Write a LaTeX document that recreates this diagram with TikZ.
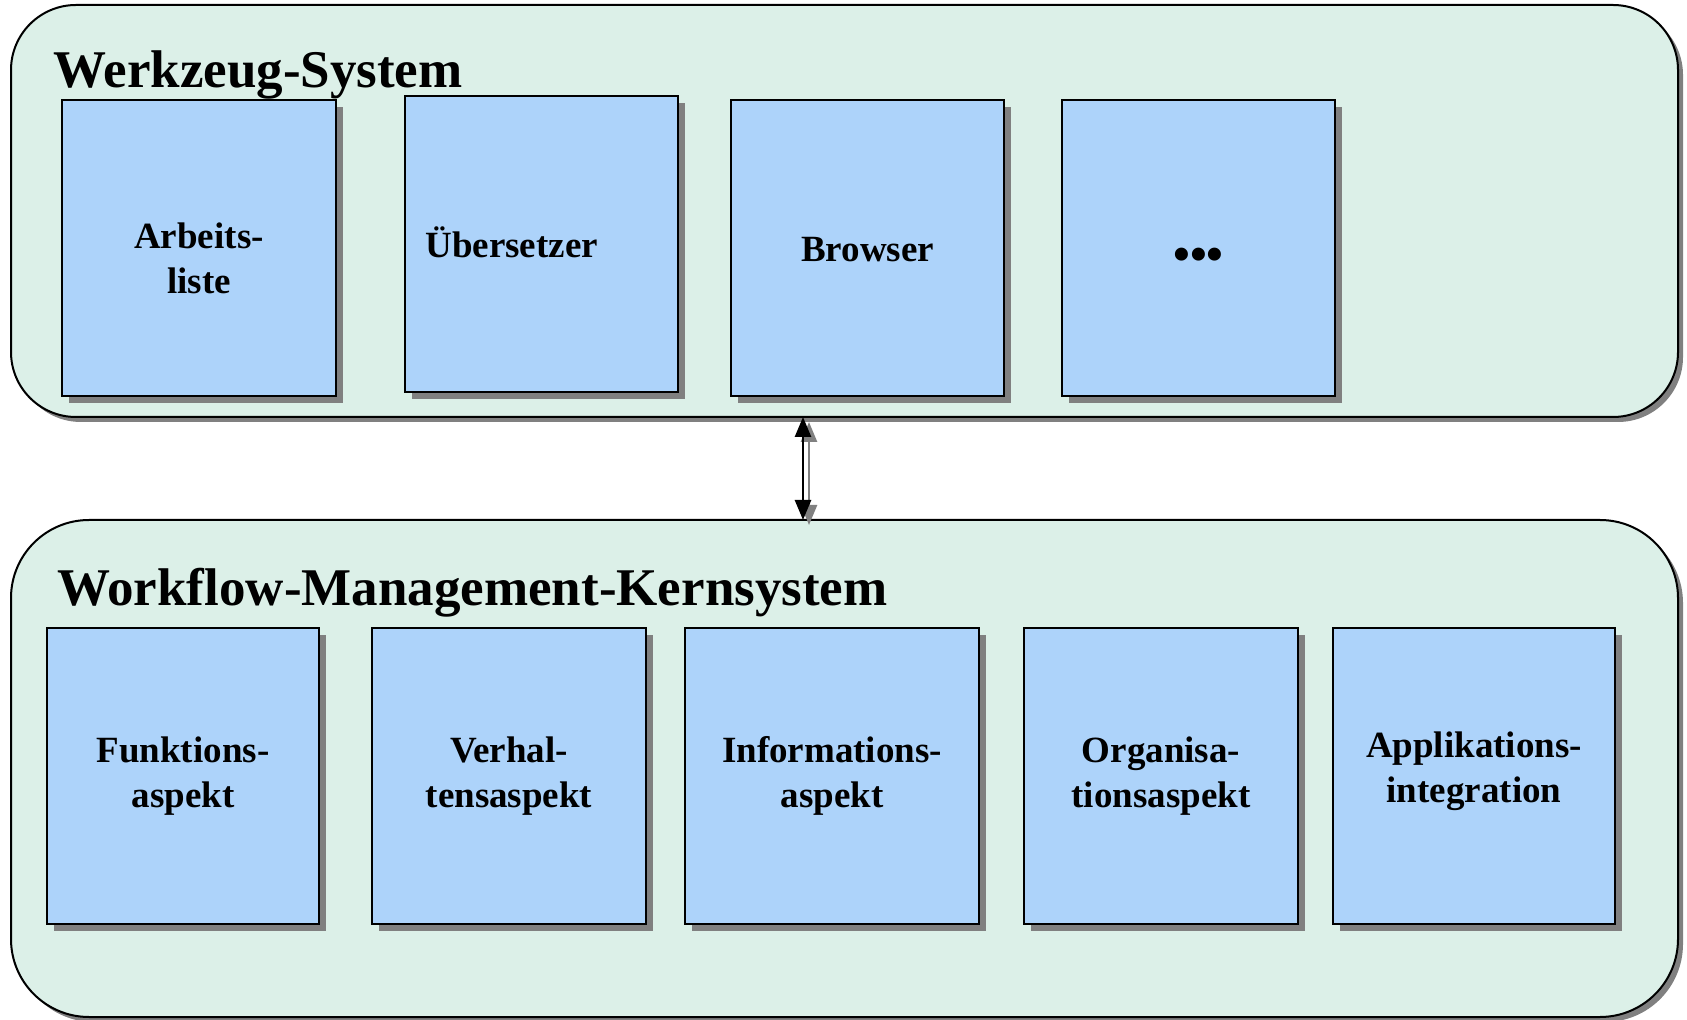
\documentclass[tikz,border=0pt]{standalone}
\usepackage{fontspec}
\setmainfont{Liberation Serif}
\usetikzlibrary{shadows,arrows.meta}
\definecolor{panelfill}{RGB}{220,240,232}
\definecolor{boxfill}{RGB}{173,211,250}
\definecolor{shadowgray}{RGB}{128,128,128}

\begin{document}
\begin{tikzpicture}[x=0.5pt,y=-0.5pt,
  panel/.style={draw=black, line width=1pt, fill=panelfill, rounded corners=#1,
    inner sep=0pt, outer sep=0pt,
    drop shadow={shadow xshift=2.5pt, shadow yshift=-2.5pt, fill=shadowgray, opacity=1}},
  module/.style={draw=black, line width=1pt, fill=boxfill, inner sep=0pt, outer sep=0pt,
    drop shadow={shadow xshift=3.5pt, shadow yshift=-3.5pt, fill=shadowgray, opacity=1}},
  dims/.style 2 args={minimum width=#1*0.5pt, minimum height=#2*0.5pt},
  heading/.style={font=\fontsize{26.5}{30}\selectfont\bfseries, inner sep=0pt, anchor=base west},
  lbl/.style={font=\fontsize{18.5}{22.5}\selectfont\bfseries, align=center, inner sep=0pt},
  link/.style={line width=1.3pt, {Triangle[width=8pt,length=10pt]}-{Triangle[width=8pt,length=10pt]}}
]
\path[use as bounding box] (0,0) rectangle (1687,1020);
\clip (0,0) rectangle (1687,1020);

% outer panels
\node[panel=32.5pt, dims={1667}{412}] (ws) at (844.5,211) {};
\node[panel=39pt, dims={1667}{497}] (wm) at (844.5,768.5) {};

\node[heading] (tws) at (53,88) {Werkzeug-System};
\node[heading] (twm) at (57,606) {Workflow-Management-Kernsystem};

% tool modules
\node[module, dims={274}{296}] (b1) at (199,248) {};
\node[module, dims={273}{296}] (b2) at (541.5,244) {};
\node[module, dims={273}{296}] (b3) at (867.5,248) {};
\node[module, dims={273}{296}] (b4) at (1198.5,248) {};

\node[lbl] (l1) at ([yshift=-5pt]b1.center) {Arbeits-\\liste};
\node[lbl, anchor=base west] (l2) at (425,258) {Übersetzer};
\node[lbl] (l3) at ([yshift=-1pt]b3.center) {Browser};
\node[font=\fontsize{24}{28}\selectfont\bfseries, inner sep=0pt] (l4) at ([yshift=-5.5pt]b4.center) {•••};

% core modules
\node[module, dims={272}{296}] (c1) at (183,776) {};
\node[module, dims={274}{296}] (c2) at (509,776) {};
\node[module, dims={294}{296}] (c3) at (832,776) {};
\node[module, dims={274}{296}] (c4) at (1161,776) {};
\node[module, dims={282}{296}] (c5) at (1474,776) {};

\node[lbl] (k1) at (c1.center) {Funktions-\\aspekt};
\node[lbl] (k2) at (c2.center) {Verhal-\\tensaspekt};
\node[lbl] (k3) at (c3.center) {Informations-\\aspekt};
\node[lbl] (k4) at (c4.center) {Organisa-\\tionsaspekt};
\node[lbl] (k5) at ([yshift=2.5pt]c5.center) {Applikations-\\integration};

% link between the two systems
\coordinate (ax) at (803,0);
\draw[link, shadowgray, transform canvas={xshift=3pt, yshift=-2.5pt}] (ws.south -| ax) -- (wm.north -| ax);
\draw[link] (ws.south -| ax) -- (wm.north -| ax);
\end{tikzpicture}
\end{document}
